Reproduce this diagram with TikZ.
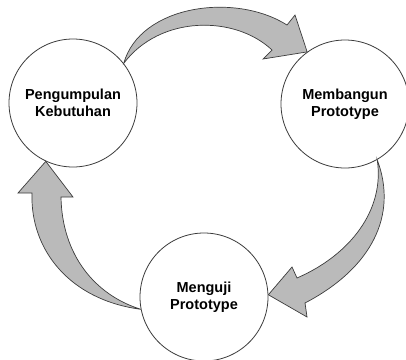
\documentclass[tikz,border=0pt]{standalone}
\usepackage{fontspec}
\setmainfont{Liberation Sans}
\usepackage{tikz}
\usetikzlibrary{positioning}
\definecolor{CycEdge}{RGB}{60,60,60}
\definecolor{CycFill}{RGB}{186,186,186}
\begin{document}
\begin{tikzpicture}[x=1pt,y=-1pt,
  stage/.style={circle,draw=CycEdge,fill=white,line width=0.8pt,
                minimum size=128pt,inner sep=0pt,align=center,
                font=\fontsize{14.5}{17}\selectfont\bfseries},
  cyc/.style={draw=CycEdge,fill=CycFill,line width=0.7pt,line join=miter},
]
\useasboundingbox (0,0) rectangle (406,359);
\node[stage] (need)  at (73,103)  {Pengumpulan\\Kebutuhan};
\node[stage] (build) at (345,104) {Membangun\\Prototype};
\node[stage] (test)  at (204,297) {Menguji\\Prototype};
\draw[cyc] (need.38) .. controls (140,5) and (235,-8) .. (287,25)
  -- (295,15) -- (build.126) -- (263,59) -- (272,50)
  .. controls (235,15) and (160,15) .. (need.38) -- cycle;
\draw[cyc] (build.-60) .. controls (398,215) and (372,268) .. (305,303)
  -- (307,317) -- (test.2) -- (292,267) -- (297,278)
  .. controls (350,255) and (385,210) .. (build.-60) -- cycle;
\draw[cyc] (test.191) .. controls (70,300) and (30,250) .. (32,193)
  -- (18,193) -- (need.245) -- (73,197) -- (61,197)
  .. controls (62,255) and (95,295) .. (test.191) -- cycle;
\end{tikzpicture}
\end{document}
